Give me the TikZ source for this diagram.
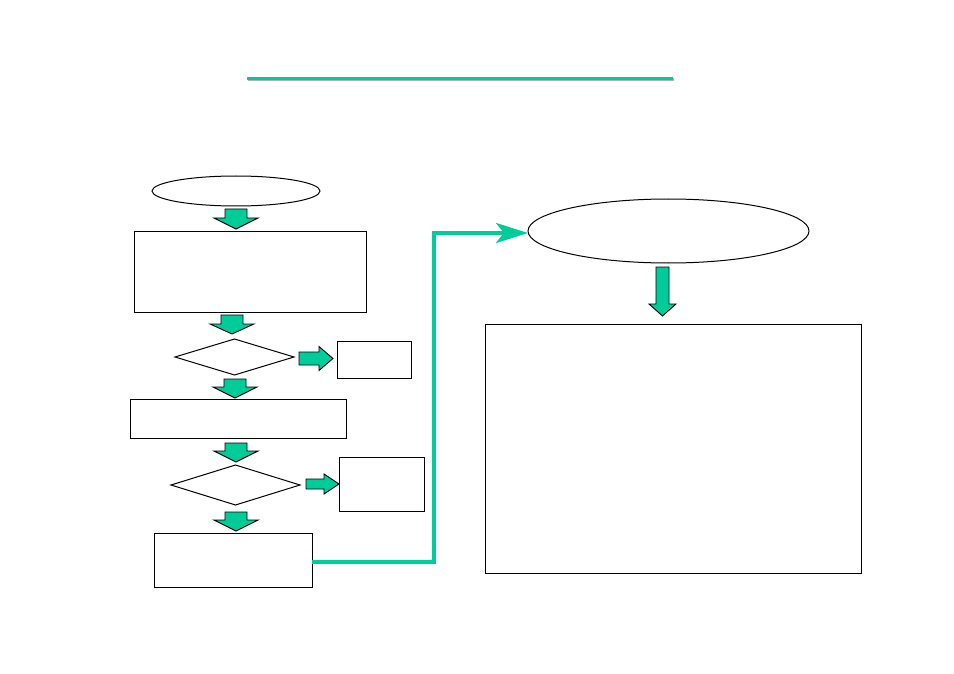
\documentclass[tikz,border=0pt]{standalone}
\usepackage{amsmath, amssymb}
\usepackage{tikz}
\usetikzlibrary{shapes.geometric, arrows.meta}

\definecolor{sea}{HTML}{00CC99}

\tikzset{
  box/.style={draw, line width=1pt, inner sep=0pt, outer sep=0pt},
  oval/.style={draw, ellipse, line width=1pt, inner sep=0pt, outer sep=0pt},
  test/.style={draw, diamond, line width=1pt, inner sep=0pt, outer sep=0pt},
  blockarrow/.style={fill=sea, draw=black, line width=0.9pt, line join=miter},
  flow/.style={draw=sea, line width=4pt, -{Stealth[length=32pt, width=20pt, inset=8pt]}}
}

% block arrow pointing down: x, top, head, tip, half shaft, half head
\newcommand{\downblock}[6]{%
  \filldraw[blockarrow] (#1-#5,#2) -- (#1+#5,#2) -- (#1+#5,#3) -- (#1+#6,#3)
    -- (#1,#4) -- (#1-#6,#3) -- (#1-#5,#3) -- cycle;}
% block arrow pointing right: y, left, head, tip, half shaft, half head
\newcommand{\rightblock}[6]{%
  \filldraw[blockarrow] (#2,#1-#5) -- (#3,#1-#5) -- (#3,#1-#6) -- (#4,#1)
    -- (#3,#1+#6) -- (#3,#1+#5) -- (#2,#1+#5) -- cycle;}

\begin{document}
\begin{tikzpicture}[x=1pt, y=-1pt]
        \useasboundingbox (0,0) rectangle (954,674);

        % title rule
        \draw [gray!60, line width=3pt] (248,80) -- (674,80);
        \draw [sea, line width=3pt] (247,79) -- (673,79);

        % left column
        \node [oval, minimum width=168pt, minimum height=30pt] (start) at (236,191) {};
        \node [box, minimum width=232pt, minimum height=80pt] (stepa) at (250,272) {};
        \node [test, minimum width=119pt, minimum height=36pt] (testa) at (234.5,357) {};
        \node [box, minimum width=74pt, minimum height=37pt] (exita) at (374,359.5) {};
        \node [box, minimum width=216pt, minimum height=39pt] (stepb) at (238,418.5) {};
        \node [test, minimum width=129pt, minimum height=40pt] (testb) at (235.5,485) {};
        \node [box, minimum width=85pt, minimum height=54pt] (exitb) at (381.5,484) {};
        \node [box, minimum width=158pt, minimum height=54pt] (stepc) at (233,560) {};

        % right column
        \node [oval, minimum width=281pt, minimum height=64pt] (goal) at (668.5,231) {};
        \node [box, minimum width=376pt, minimum height=249pt] (plan) at (673,448.5) {};

        \downblock{236}{209}{218}{229}{11}{22}
        \downblock{232}{315}{324}{334}{11}{22}
        \downblock{235}{379}{387}{398}{11}{22}
        \downblock{236}{443}{451}{462}{11}{22}
        \downblock{236}{512}{520}{531}{11}{22}
        \rightblock{358.5}{299}{319}{333}{6.5}{12}
        \rightblock{484}{306}{324}{339}{5}{10}
        \downblock{662.5}{267}{304}{316}{6.5}{13.5}

        \coordinate (bend) at (434,562);
        \draw [flow] ([yshift=-2pt]stepc.east) -- (bend) |- ([yshift=-2pt]goal.west);
\end{tikzpicture}
\end{document}
